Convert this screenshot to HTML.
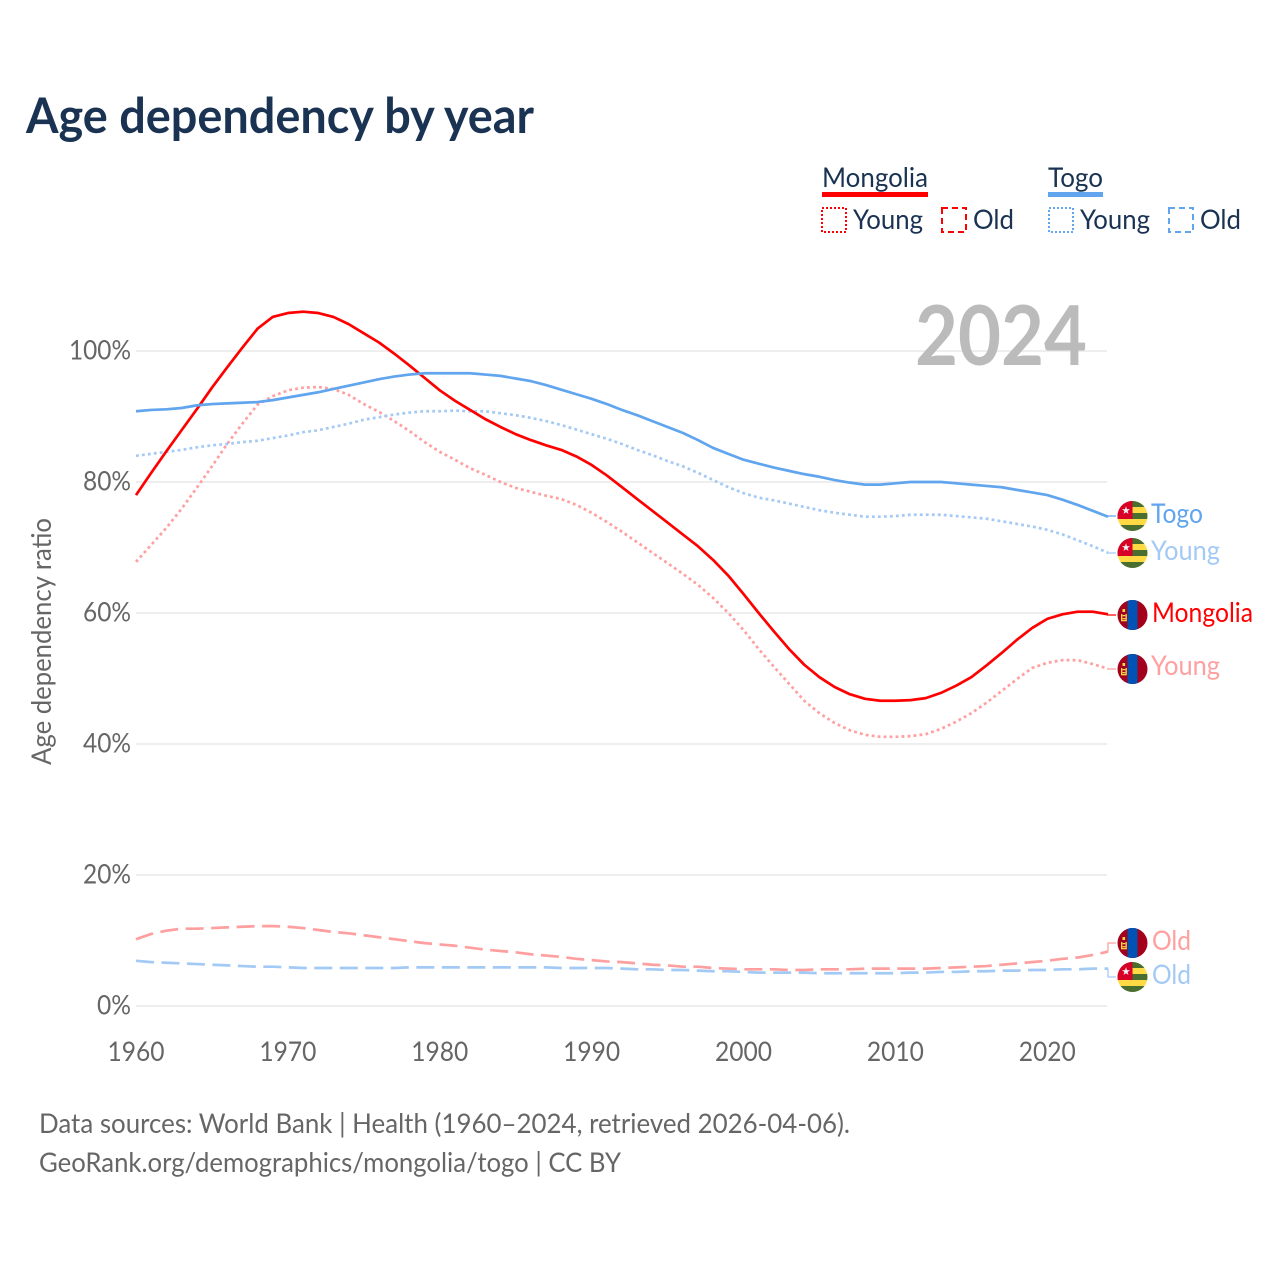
<!DOCTYPE html>
<html lang="en">
<head>
<meta charset="utf-8">
<title>Age dependency by year</title>
<style>
html,body{margin:0;padding:0;background:#fff;}
svg{display:block;}
text{font-family:"Lato","Carlito","Liberation Sans",sans-serif;}
</style>
</head>
<body>
<svg id="chart" xmlns="http://www.w3.org/2000/svg" width="1280" height="1280" viewBox="0 0 1280 1280">
  <text x="26" y="133" font-size="49" font-weight="700" fill="#1a3352" textLength="508" lengthAdjust="spacingAndGlyphs">Age dependency by year</text>

  <g font-size="27.5" fill="#1a3352">
    <text x="822" y="187" textLength="106" lengthAdjust="spacingAndGlyphs">Mongolia</text>
    <rect x="822" y="192" width="106" height="5" fill="#ff0000"/>
    <rect x="822" y="208" width="24" height="24" fill="none" stroke="#ff0000" stroke-width="2" stroke-dasharray="2 2"/>
    <text x="853" y="229" textLength="70" lengthAdjust="spacingAndGlyphs">Young</text>
    <rect x="942" y="208" width="24" height="24" fill="none" stroke="#ff0000" stroke-width="2" stroke-dasharray="6 4"/>
    <text x="973" y="229" textLength="41" lengthAdjust="spacingAndGlyphs">Old</text>
    <text x="1048" y="187" textLength="55" lengthAdjust="spacingAndGlyphs">Togo</text>
    <rect x="1048" y="192" width="55" height="5" fill="#60a5ee"/>
    <rect x="1049" y="208" width="24" height="24" fill="none" stroke="#60a5ee" stroke-width="2" stroke-dasharray="2 2"/>
    <text x="1080" y="229" textLength="70" lengthAdjust="spacingAndGlyphs">Young</text>
    <rect x="1169" y="208" width="24" height="24" fill="none" stroke="#60a5ee" stroke-width="2" stroke-dasharray="6 4"/>
    <text x="1200" y="229" textLength="41" lengthAdjust="spacingAndGlyphs">Old</text>
  </g>

  <g id="grid"></g>
  <g id="xticks"></g>
  <g id="yticks"></g>

  <text transform="translate(51 765) rotate(-90)" font-size="27.5" fill="#666666" textLength="247" lengthAdjust="spacingAndGlyphs">Age dependency ratio</text>

  <text x="915" y="365" font-size="82" font-weight="700" fill="#bbbbbb" textLength="172" lengthAdjust="spacingAndGlyphs">2024</text>

  <g id="series"></g>
  <g id="endlabels"></g>

  <g font-size="27.5" fill="#666666">
    <text x="39" y="1133" textLength="811" lengthAdjust="spacingAndGlyphs">Data sources: World Bank | Health (1960–2024, retrieved 2026-04-06).</text>
    <text x="39" y="1172" textLength="582" lengthAdjust="spacingAndGlyphs">GeoRank.org/demographics/mongolia/togo | CC BY</text>
  </g>
</svg>

<script>
var years = [
1960,1961,1962,1963,1964,1965,1966,1967,1968,1969,
1970,1971,1972,1973,1974,1975,1976,1977,1978,1979,
1980,1981,1982,1983,1984,1985,1986,1987,1988,1989,
1990,1991,1992,1993,1994,1995,1996,1997,1998,1999,
2000,2001,2002,2003,2004,2005,2006,2007,2008,2009,
2010,2011,2012,2013,2014,2015,2016,2017,2018,2019,
2020,2021,2022,2023,2024];
var mongoliaTotal = [
78.0,81.4,84.7,87.9,91.1,94.4,97.5,100.5,103.4,105.2,
105.8,106.0,105.8,105.2,104.1,102.7,101.3,99.6,97.8,95.9,
94.0,92.4,91.0,89.6,88.4,87.3,86.4,85.6,84.9,83.9,
82.6,81.0,79.2,77.4,75.6,73.8,72.0,70.2,68.1,65.7,
62.9,60.0,57.2,54.5,52.1,50.2,48.7,47.6,46.9,46.6,
46.6,46.7,47.0,47.8,48.9,50.2,52.0,53.9,55.9,57.7,
59.1,59.8,60.2,60.2,59.8];
var mongoliaYoung = [
67.8,70.4,73.0,75.9,79.1,82.4,85.8,88.9,91.8,93.1,
94.0,94.4,94.5,94.2,93.3,91.9,90.7,89.3,87.8,86.1,
84.6,83.4,82.1,81.1,80.0,79.1,78.5,77.9,77.4,76.5,
75.3,73.9,72.4,70.8,69.2,67.6,66.0,64.3,62.3,60.0,
57.4,54.5,51.8,49.2,46.6,44.7,43.2,42.1,41.4,41.1,
41.1,41.2,41.5,42.3,43.4,44.7,46.3,48.1,49.9,51.6,
52.4,52.8,52.8,52.2,51.5];
var mongoliaOld = [
10.2,11.0,11.5,11.8,11.8,11.9,12.0,12.1,12.2,12.2,
12.1,11.9,11.6,11.3,11.1,10.8,10.5,10.2,9.9,9.6,
9.4,9.2,8.9,8.6,8.4,8.2,7.9,7.7,7.5,7.2,
7.0,6.8,6.7,6.5,6.3,6.2,6.0,6.0,5.8,5.7,
5.6,5.6,5.6,5.5,5.5,5.6,5.6,5.6,5.7,5.7,
5.7,5.7,5.7,5.8,5.9,6.0,6.1,6.3,6.5,6.7,
6.9,7.2,7.4,7.8,8.3];
var togoTotal = [
90.8,91.0,91.1,91.3,91.7,91.9,92.0,92.1,92.2,92.5,
92.9,93.3,93.7,94.2,94.7,95.2,95.7,96.1,96.4,96.6,
96.6,96.6,96.6,96.4,96.2,95.8,95.4,94.8,94.1,93.4,
92.7,91.9,91.0,90.2,89.3,88.4,87.5,86.4,85.2,84.3,
83.4,82.8,82.2,81.7,81.2,80.8,80.3,79.9,79.6,79.6,
79.8,80.0,80.0,80.0,79.8,79.6,79.4,79.2,78.8,78.4,
78.0,77.3,76.5,75.6,74.7];
var togoYoung = [
84.0,84.3,84.6,84.9,85.3,85.6,85.8,86.1,86.3,86.7,
87.1,87.6,87.9,88.4,88.9,89.5,89.9,90.3,90.6,90.8,
90.8,90.9,90.8,90.8,90.5,90.2,89.8,89.3,88.7,88.0,
87.3,86.6,85.8,84.9,84.1,83.2,82.4,81.4,80.3,79.2,
78.3,77.6,77.2,76.7,76.2,75.7,75.3,75.0,74.7,74.7,
74.8,75.0,75.0,75.0,74.8,74.6,74.4,74.0,73.6,73.2,
72.7,72.0,71.1,70.2,69.2];
var togoOld = [
6.9,6.7,6.6,6.5,6.4,6.3,6.2,6.1,6.0,6.0,
5.9,5.8,5.8,5.8,5.8,5.8,5.8,5.8,5.9,5.9,
5.9,5.9,5.9,5.9,5.9,5.9,5.9,5.9,5.8,5.8,
5.8,5.8,5.7,5.6,5.6,5.5,5.5,5.4,5.3,5.3,
5.2,5.1,5.1,5.1,5.1,5.0,5.0,5.0,5.0,5.0,
5.0,5.1,5.1,5.2,5.2,5.3,5.3,5.4,5.4,5.5,
5.5,5.6,5.6,5.7,5.7];
var xTickYears = [1960,1970,1980,1990,2000,2010,2020];
var yTickValues = [0,20,40,60,80,100];

var NS = 'http://www.w3.org/2000/svg';
function x(year){ return 136 + (year - 1960) * (1108 - 136) / 64; }
function y(value){ return 1006 - value * 6.55; }
function make(parent, tag){
  var el = document.createElementNS(NS, tag);
  parent.appendChild(el);
  return el;
}

var RED = '#ff0000', BLUE = '#60a5ee', RED_LIGHT = '#ff9f9f', BLUE_LIGHT = '#a3caf5';

/* gridlines and y ticks */
var gridG = document.getElementById('grid');
var yG = document.getElementById('yticks');
yTickValues.forEach(function(v){
  var line = make(gridG, 'line');
  
  
  line.setAttribute('x1', 136);
  line.setAttribute('x2', 1107);
  line.setAttribute('y1', y(v));
  line.setAttribute('y2', y(v));
  line.setAttribute('stroke', '#eeeeee');
  line.setAttribute('stroke-width', '2');
  var t = make(yG, 'text');
  
  
  t.setAttribute('x', 131);
  t.setAttribute('y', y(v) + 8.5);
  t.setAttribute('text-anchor', 'end');
  t.setAttribute('font-size', '27.5');
  t.setAttribute('fill', '#666666');
  t.setAttribute('textLength', v === 100 ? 62 : (v === 0 ? 34 : 48));
  t.setAttribute('lengthAdjust', 'spacingAndGlyphs');
  t.textContent = v + '%';
});

/* x ticks */
var xG = document.getElementById('xticks');
xTickYears.forEach(function(yr){
  var t = make(xG, 'text');
  
  
  t.setAttribute('x', x(yr));
  t.setAttribute('y', 1061);
  t.setAttribute('text-anchor', 'middle');
  t.setAttribute('font-size', '27.5');
  t.setAttribute('fill', '#666666');
  t.setAttribute('textLength', '57');
  t.setAttribute('lengthAdjust', 'spacingAndGlyphs');
  t.textContent = yr;
});

/* series */
var seriesG = document.getElementById('series');
function drawSeries(name, values, color, width, dash){
  var p = make(seriesG, 'path');
  
  
  var d = values.map(function(v, i){
    return (i ? 'L' : 'M') + x(years[i]).toFixed(2) + ' ' + y(v).toFixed(2);
  }).join(' ');
  p.setAttribute('d', d);
  p.setAttribute('fill', 'none');
  p.setAttribute('stroke', color);
  p.setAttribute('stroke-width', width);
  p.setAttribute('stroke-linejoin', 'round');
  if (dash) p.setAttribute('stroke-dasharray', dash);
}
drawSeries('line-mongolia-old', mongoliaOld, RED_LIGHT, 2.7, '18 7.5');
drawSeries('line-togo-old', togoOld, BLUE_LIGHT, 2.7, '18 7.5');
drawSeries('line-mongolia-young', mongoliaYoung, RED_LIGHT, 2.7, '2.8 3.2');
drawSeries('line-togo-young', togoYoung, BLUE_LIGHT, 2.7, '2.8 3.2');
drawSeries('line-mongolia-total', mongoliaTotal, RED, 2.7, '');
drawSeries('line-togo-total', togoTotal, BLUE, 2.7, '');

/* end labels: flag, connector and name */
var labelG = document.getElementById('endlabels');

function drawFlag(group, country, cy, id){
  var defs = make(group, 'clipPath');
  defs.setAttribute('id', id);
  var cc = make(defs, 'circle');
  cc.setAttribute('cx', 1132.5);
  cc.setAttribute('cy', cy);
  cc.setAttribute('r', 15);
  var f = make(group, 'g');
  
  
  f.setAttribute('clip-path', 'url(#' + id + ')');
  function r(px, py, w, h, c){
    var el = make(f, 'rect');
    el.setAttribute('x', 1132.5 + px);
    el.setAttribute('y', cy + py);
    el.setAttribute('width', w);
    el.setAttribute('height', h);
    el.setAttribute('fill', c);
  }
  if (country === 'togo') {
    r(-15, -15, 30, 6, '#496e2d');
    r(-15, -9, 30, 6, '#ffda44');
    r(-15, -3, 30, 6, '#496e2d');
    r(-15, 3, 30, 8, '#ffda44');
    r(-15, 9, 30, 6, '#496e2d');
    r(-15, -15, 15, 18, '#d80027');
    var s = make(f, 'polygon');
    var cx0 = 1126, cy0 = cy - 5.5, pts = [];
    for (var k = 0; k < 10; k++) {
      var rad = k % 2 ? 1.7 : 4.2, a = -Math.PI / 2 + k * Math.PI / 5;
      pts.push((cx0 + rad * Math.cos(a)).toFixed(2) + ',' + (cy0 + rad * Math.sin(a)).toFixed(2));
    }
    s.setAttribute('points', pts.join(' '));
    s.setAttribute('fill', '#f0f0f0');
  } else {
    r(-15, -15, 30, 30, '#a2001d');
    r(-5, -15, 10, 30, '#0052b4');
    r(-11.5, -1, 1.3, 6, '#ffda44');
    r(-7, -1, 1.3, 6, '#ffda44');
    r(-10, 0, 2.8, 1.3, '#ffda44');
    r(-10, 3, 2.8, 1.3, '#ffda44');
    r(-10, -6, 2.6, 3, '#ffda44');
    r(-11.5, 5, 5.8, 1.3, '#ffda44');
  }
}

function drawEnd(name, country, values, labelText, labelY, baseline, textX, width, lineColor, textColor){
  var g = make(labelG, 'g');
  
  
  var c = make(g, 'path');
  
  
  var ex = x(years[years.length - 1]);
  var ey = y(values[values.length - 1]);
  c.setAttribute('d', 'M' + ex.toFixed(2) + ' ' + ey.toFixed(2) + ' L' + ex.toFixed(2) + ' ' + labelY + ' L1116 ' + labelY);
  c.setAttribute('fill', 'none');
  c.setAttribute('stroke', lineColor);
  c.setAttribute('stroke-width', '1.3');
  drawFlag(g, country, labelY, 'clip-' + name);
  var t = make(g, 'text');
  
  
  t.setAttribute('x', textX);
  t.setAttribute('y', baseline);
  t.setAttribute('font-size', '27.5');
  t.setAttribute('fill', textColor);
  t.setAttribute('textLength', width);
  t.setAttribute('lengthAdjust', 'spacingAndGlyphs');
  t.textContent = labelText;
}
drawEnd('togo-total', 'togo', togoTotal, 'Togo', 516, 523, 1151, 52, BLUE, BLUE);
drawEnd('togo-young', 'togo', togoYoung, 'Young', 553, 560, 1151, 69, BLUE_LIGHT, BLUE_LIGHT);
drawEnd('mongolia-total', 'mongolia', mongoliaTotal, 'Mongolia', 615, 622, 1152, 101, RED, RED);
drawEnd('mongolia-young', 'mongolia', mongoliaYoung, 'Young', 669, 675, 1151, 69, RED_LIGHT, RED_LIGHT);
drawEnd('mongolia-old', 'mongolia', mongoliaOld, 'Old', 943, 950, 1152, 39, RED_LIGHT, RED_LIGHT);
drawEnd('togo-old', 'togo', togoOld, 'Old', 977, 984, 1152, 39, BLUE_LIGHT, BLUE_LIGHT);
</script>
</body>
</html>
